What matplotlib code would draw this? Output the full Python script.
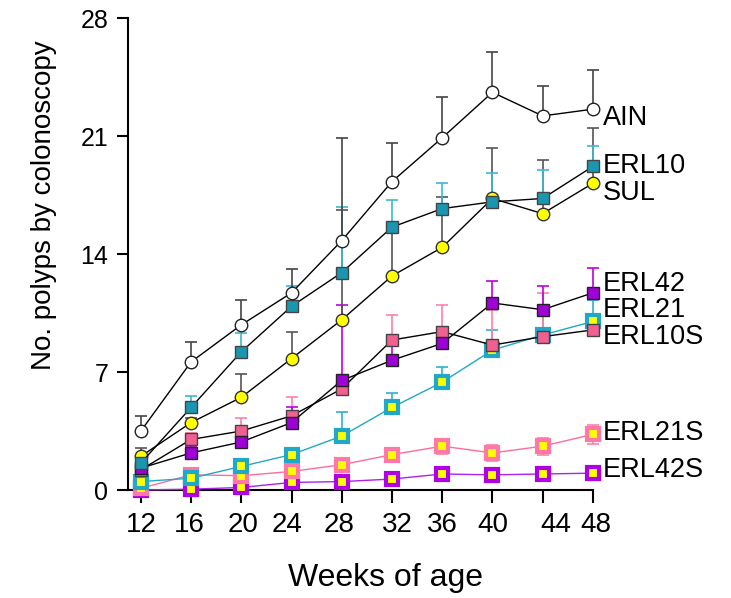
import numpy as np
import matplotlib
matplotlib.use("Agg")
import matplotlib.pyplot as plt
import matplotlib.transforms as mtransforms

plt.rcParams['font.family'] = ['Liberation Sans', 'DejaVu Sans']

weeks = [12, 16, 20, 24, 28, 32, 36, 40, 44, 48]

# group means and upper error (top of bar)
ain = [3.5, 7.6, 9.8, 11.7, 14.8, 18.3, 20.9, 23.6, 22.2, 22.6]
ain_top = [4.4, 8.8, 11.3, 13.1, 20.9, 20.6, 23.3, 26.0, 24.0, 24.9]

erl10 = [1.6, 4.9, 8.2, 10.9, 12.9, 15.6, 16.7, 17.1, 17.3, 19.2]
erl10_top = [1.9, 5.6, 9.3, 12.1, 16.8, 17.2, 18.2, 18.8, 19.0, 20.4]

sul = [2.0, 4.0, 5.5, 7.8, 10.1, 12.7, 14.4, 17.3, 16.4, 18.2]
sul_top = [2.5, 4.3, 6.9, 9.4, 16.6, 15.5, 17.4, 20.3, 19.6, 21.5]

erl42 = [1.3, 2.2, 2.85, 4.0, 6.5, 7.7, 8.7, 11.1, 10.7, 11.7]
erl42_top = [1.5, 2.6, 3.3, 4.9, 11.0, 8.6, 9.6, 12.4, 12.1, 13.2]

erl21 = [1.2, 3.0, 3.5, 4.4, 6.0, 8.9, 9.4, 8.6, 9.1, 9.5]
erl21_top = [1.4, 3.4, 4.3, 5.5, 6.5, 10.4, 11.0, 10.7, 11.7, 10.2]

erl10s = [0.5, 0.7, 1.4, 2.1, 3.2, 4.9, 6.4, 8.3, 9.2, 10.0]
erl10s_top = [0.7, 0.9, 1.7, 2.4, 4.6, 5.75, 7.3, 9.5, 10.3, 11.3]

erl21s = [0.1, 0.9, 0.85, 1.1, 1.5, 2.1, 2.6, 2.2, 2.6, 3.3]
erl21s_err = [0.1, 0.15, 0.2, 0.25, 0.3, 0.35, 0.45, 0.5, 0.5, 0.55]

erl42s = [0.0, 0.05, 0.15, 0.45, 0.5, 0.65, 0.95, 0.9, 0.95, 1.0]
erl42s_err = [0.05, 0.05, 0.1, 0.1, 0.1, 0.1, 0.15, 0.15, 0.15, 0.15]

names = ['AIN', 'ERL10', 'SUL', 'ERL42', 'ERL21', 'ERL10S', 'ERL21S', 'ERL42S']
name_y = [22.1, 19.2, 17.6, 12.2, 10.7, 9.1, 3.4, 1.2]

fig = plt.figure(figsize=(7.31, 5.98), dpi=100)
ax = fig.add_axes([0.175, 0.1806, 0.636, 0.789])

x = np.array(weeks)


def one_sided(vals, tops):
    v = np.array(vals)
    return [np.zeros_like(v), np.array(tops) - v]


# (mean, err, line colour, err colour, face, edge, marker, ms, mew)
series = [
    (erl42s, [erl42s_err, erl42s_err], '#b020e8', '#c040f0', '#ffff00', '#b000e8', 's', 9, 3.0),
    (erl21s, [erl21s_err, erl21s_err], '#ff6c9c', '#ff80a8', '#ffff00', '#ff78a8', 's', 9, 3.0),
    (erl10s, one_sided(erl10s, erl10s_top), '#20a8c8', '#30b0cc', '#ffff00', '#20a8c8', 's', 9, 3.0),
    (erl21, one_sided(erl21, erl21_top), 'black', '#ff80a8', '#f06090', '#444444', 's', 8.5, 1.0),
    (erl42, one_sided(erl42, erl42_top), 'black', '#c000e0', '#a000d8', '#222222', 's', 8.5, 1.0),
    (sul, one_sided(sul, sul_top), 'black', '#555555', '#ffff00', '#333333', 'o', 9, 1.0),
    (erl10, one_sided(erl10, erl10_top), 'black', '#40b8d0', '#1a96b0', '#444444', 's', 8.5, 1.0),
    (ain, one_sided(ain, ain_top), 'black', '#444444', 'white', '#222222', 'o', 9, 1.0),
]

for mean, err, lc, ec, fc, mec, mk, ms, mew in series:
    ax.errorbar(x, mean, yerr=err, fmt='none', ecolor=ec, elinewidth=1.2,
                capsize=4, capthick=1.2, clip_on=False, zorder=2)
    ax.plot(x, mean, color=lc, lw=1.0, marker=mk, ms=ms, mfc=fc, mec=mec,
            mew=mew, clip_on=False, zorder=3)

for nm, ny in zip(names, name_y):
    ax.text(48.8, ny, nm, fontsize=19.5, va='center', ha='left')

ax.set_xlim(10.97, 48)
ax.set_ylim(0, 28)
ax.set_xticks(weeks)
ax.set_yticks([0, 7, 14, 21, 28])
ax.spines['top'].set_visible(False)
ax.spines['right'].set_visible(False)
ax.spines['left'].set_linewidth(1.5)
ax.spines['bottom'].set_linewidth(1.5)
ax.tick_params(axis='y', direction='out', length=8, width=1.5, pad=6, labelsize=18)
ax.tick_params(axis='x', direction='out', length=9, width=1.5, pad=7, labelsize=20)

# slight horizontal jitter of the x tick labels as in the original figure
label_shift = [0.5, -1.5, 1.5, -3, -2, 4, 0, 0, 9.5, 2]
for lab, dx in zip(ax.get_xticklabels(), label_shift):
    lab.set_transform(lab.get_transform() +
                      mtransforms.ScaledTranslation(dx / 72, 0, fig.dpi_scale_trans))

ax.set_xlabel('Weeks of age', fontsize=23)
ax.xaxis.set_label_coords(0.553, -0.155)
ax.set_ylabel('No. polyps by colonoscopy', fontsize=20)
ax.yaxis.set_label_coords(-0.152, 0.604)

fig.savefig('out.png', dpi=100)
